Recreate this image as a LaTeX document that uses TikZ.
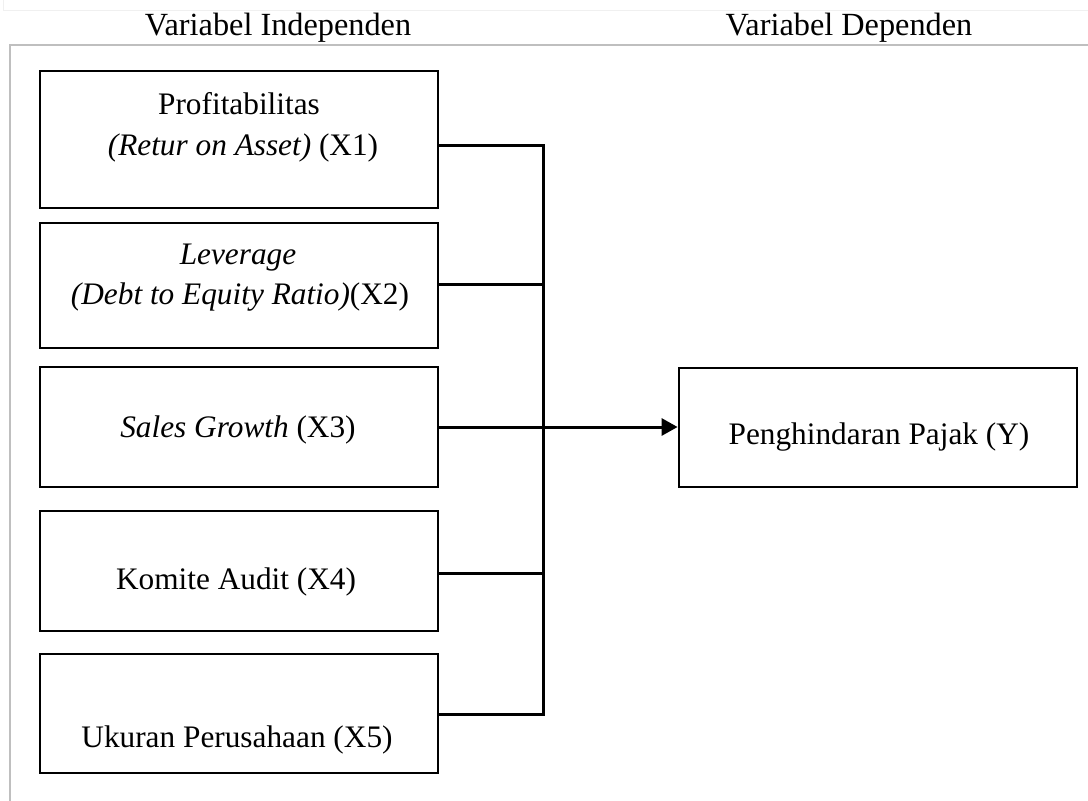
\documentclass[tikz,border=0pt]{standalone}
\usepackage{fontspec}
\setmainfont{Liberation Serif}
\usetikzlibrary{arrows.meta}
\begin{document}
\begin{tikzpicture}[x=1pt,y=-1pt,
  box/.style={draw=black,line width=2.8pt,rectangle,inner sep=0pt,minimum width=398pt},
  lbl/.style={inner sep=0pt,font=\fontsize{31.3}{37}\selectfont},
  ttl/.style={inner sep=0pt,font=\fontsize{32.3}{39}\selectfont},
  frame/.style={draw=black!25,line width=1.6pt},
  faint/.style={draw=black!6,line width=1pt},
  conn/.style={draw=black,line width=3pt},
  arr/.style={conn,-{Triangle[length=16pt,width=17pt]}}]
\useasboundingbox (0,0) rectangle (1088,801);
% frame lines
\coordinate (fa) at (3,0);
\coordinate (fb) at (3,10);
\coordinate (fc) at (1088,10);
\draw[faint] (fa) -- (fb) -- (fc);
\coordinate (fd) at (10,801);
\coordinate (fe) at (10,45);
\coordinate (ff) at (1088,45);
\draw[frame] (fd) -- (fe) -- (ff);
% titles
\node[ttl] (ti) at (278,28) {Variabel Independen};
\node[ttl] (td) at (849,28) {Variabel Dependen};
% boxes
\node[box,minimum height=137pt] (b1) at (239,139.5) {};
\node[box,minimum height=125pt] (b2) at (239,285.5) {};
\node[box,minimum height=120pt] (b3) at (239,427) {};
\node[box,minimum height=120pt] (b4) at (239,571) {};
\node[box,minimum height=119pt] (b5) at (239,713.5) {};
\node[box,minimum width=398pt,minimum height=119pt] (y) at (878,427.5) {};
% labels
\node[lbl] (t1a) at (239,104) {Profitabilitas};
\node[lbl] (t1b) at (243,148) {\textit{(Retur on Asset)} (X1)};
\node[lbl] (t2a) at (238,258) {\textit{Leverage}};
\node[lbl] (t2b) at (240,297) {\textit{(Debt to Equity Ratio)}(X2)};
\node[lbl] (t3) at (238,430) {\textit{Sales Growth} (X3)};
\node[lbl] (t4) at (236,582) {Komite Audit (X4)};
\node[lbl] (t5) at (237,740) {Ukuran Perusahaan (X5)};
\node[lbl] (ty) at (879,437) {Penghindaran Pajak (Y)};
% connectors
\coordinate (j1) at (543,145);
\coordinate (j2) at (543,284);
\coordinate (j3) at (543,427);
\coordinate (j4) at (543,573);
\coordinate (j5) at (543,714);
\draw[conn] (b1.east |- j1) -- (j1);
\draw[conn] (b2.east |- j2) -- (j2);
\draw[conn] (b3.east |- j3) -- (j3);
\draw[conn] (b4.east |- j4) -- (j4);
\draw[conn] (b5.east |- j5) -- (j5);
\draw[conn,line cap=rect] (j1) -- (j5);
\draw[arr] (j3) -- (y.west |- j3);
\end{tikzpicture}
\end{document}
